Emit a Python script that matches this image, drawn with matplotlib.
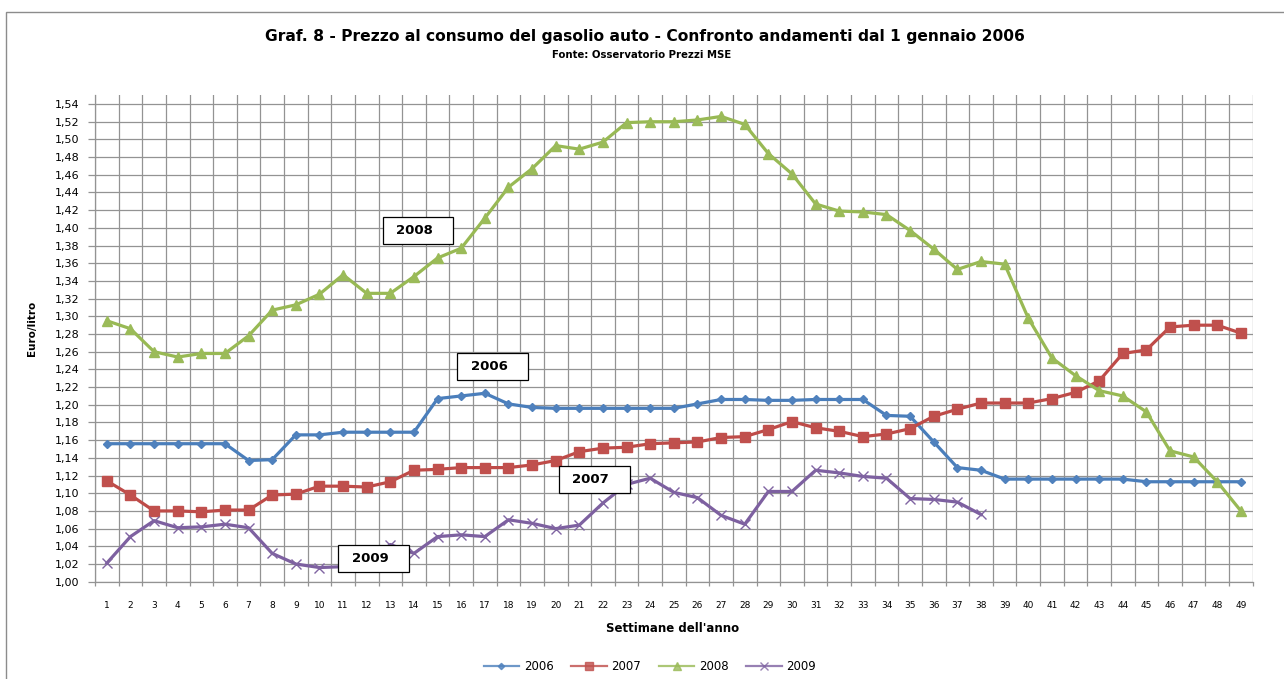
import matplotlib
matplotlib.use("Agg")
import matplotlib.pyplot as plt
from matplotlib.patches import Rectangle
from matplotlib.ticker import FuncFormatter
import numpy as np

weeks = list(range(1, 50))

s2006 = [1.156, 1.156, 1.156, 1.156, 1.156, 1.156, 1.137, 1.138, 1.166, 1.166,
         1.169, 1.169, 1.169, 1.169, 1.207, 1.210, 1.213, 1.201, 1.197, 1.196,
         1.196, 1.196, 1.196, 1.196, 1.196, 1.201, 1.206, 1.206, 1.205, 1.205,
         1.206, 1.206, 1.206, 1.188, 1.187, 1.158, 1.129, 1.126, 1.116, 1.116,
         1.116, 1.116, 1.116, 1.116, 1.113, 1.113, 1.113, 1.113, 1.113]

s2007 = [1.114, 1.098, 1.080, 1.080, 1.079, 1.081, 1.081, 1.098, 1.099, 1.108,
         1.108, 1.107, 1.113, 1.126, 1.127, 1.129, 1.129, 1.129, 1.132, 1.137,
         1.147, 1.151, 1.152, 1.156, 1.157, 1.158, 1.163, 1.164, 1.172, 1.181,
         1.174, 1.170, 1.164, 1.167, 1.173, 1.187, 1.195, 1.202, 1.202, 1.202,
         1.207, 1.214, 1.227, 1.258, 1.262, 1.288, 1.290, 1.290, 1.281]

s2008 = [1.295, 1.286, 1.260, 1.254, 1.258, 1.258, 1.278, 1.307, 1.313, 1.325,
         1.347, 1.326, 1.326, 1.345, 1.366, 1.377, 1.411, 1.446, 1.467, 1.493,
         1.489, 1.497, 1.519, 1.520, 1.520, 1.522, 1.526, 1.517, 1.484, 1.461,
         1.427, 1.419, 1.418, 1.415, 1.397, 1.376, 1.353, 1.362, 1.359, 1.298,
         1.253, 1.233, 1.216, 1.210, 1.192, 1.148, 1.141, 1.113, 1.080]

s2009 = [1.021, 1.051, 1.069, 1.061, 1.062, 1.065, 1.061, 1.032, 1.020, 1.016,
         1.017, 1.020, 1.042, 1.032, 1.051, 1.053, 1.051, 1.070, 1.066, 1.060,
         1.064, 1.089, 1.110, 1.117, 1.101, 1.095, 1.075, 1.065, 1.102, 1.102,
         1.126, 1.123, 1.119, 1.117, 1.094, 1.093, 1.090, 1.076]

series_names = ["2006", "2007", "2008", "2009"]
series_data = [s2006, s2007, s2008, s2009]
line_colors = ["#4A7EBB", "#BE4B48", "#98B954", "#7D60A0"]
marker_colors = ["#4F81BD", "#C0504D", "#9BBB59", "#8064A2"]
markers = ["D", "s", "^", "x"]
marker_sizes = [4.0, 6.5, 6.5, 7]

# callout boxes: (label, x centre, y centre) in data units
callouts = [("2008", 14.18, 1.397), ("2006", 17.33, 1.243),
            ("2007", 21.63, 1.116), ("2009", 12.29, 1.026)]

title = "Graf. 8 - Prezzo al consumo del gasolio auto - Confronto andamenti dal 1 gennaio 2006"
subtitle = "Fonte: Osservatorio Prezzi MSE"

W, H = 1284, 679
fig = plt.figure(figsize=(W / 100, H / 100), dpi=100)
plt.rcParams['font.family'] = ['DejaVu Sans']

grid_c = "#939393"

# outer frame
fig.patches.append(Rectangle((6 / W, -0.2), 1.2, (H - 12) / H + 0.2,
                             transform=fig.transFigure, fill=False,
                             edgecolor="#8c8c8c", lw=1.0))

ax = fig.add_axes([95 / W, (H - 581.7) / H, (1252.7 - 95) / W, (581.7 - 95.2) / H])

for name, data, lc, mc, mk, ms in zip(series_names, series_data, line_colors,
                                      marker_colors, markers, marker_sizes):
    kw = dict(color=lc, lw=2.3, marker=mk, markersize=ms, label=name,
              markerfacecolor=mc, markeredgecolor=mc, zorder=3)
    if mk == "x":
        kw["markeredgewidth"] = 1.0
    ax.plot(weeks[:len(data)], data, **kw)

ax.set_xlim(0.5, 49.5)
ax.set_ylim(1.00, 1.55)
ax.set_xticks(weeks)
ax.set_xticklabels([str(w) for w in weeks], fontsize=6.5)
ax.set_xticks(np.arange(0.5, 50, 1.0), minor=True)
ax.tick_params(axis="x", which="major", length=0, pad=14)
ax.tick_params(axis="x", which="minor", length=3, width=0.9, color=grid_c, direction="out")
ax.set_yticks(np.arange(1.00, 1.5401, 0.02))
ax.yaxis.set_major_formatter(FuncFormatter(lambda v, p: f"{v:.2f}".replace(".", ",")))
ax.tick_params(axis="y", which="major", length=5, width=0.9, color=grid_c,
               labelsize=8, pad=6, direction="out")
ax.grid(True, axis="x", which="minor", color=grid_c, lw=0.9, zorder=1)
ax.grid(True, axis="y", which="major", color=grid_c, lw=0.9, zorder=1)
ax.set_axisbelow(True)
for sp in ["top", "right"]:
    ax.spines[sp].set_visible(False)
for sp in ["left", "bottom"]:
    ax.spines[sp].set_color(grid_c)
    ax.spines[sp].set_linewidth(0.9)

bw, bh = 2.986, 0.0305
for lab, cx, cy in callouts:
    ax.add_patch(Rectangle((cx - bw / 2, cy - bh / 2), bw, bh, facecolor="white",
                           edgecolor="black", lw=0.9, zorder=5))
    ax.text(cx - 0.15, cy, lab, ha="center", va="center", fontsize=9.5,
            fontweight="bold", zorder=6)

fig.text(645 / W, 1 - 36 / H, title, ha="center", va="center", fontsize=11.2, fontweight="bold")
fig.text(642 / W, 1 - 55 / H, subtitle, ha="center", va="center", fontsize=7.3, fontweight="bold")
fig.text(673 / W, 1 - 628 / H, "Settimane dell'anno", ha="center", va="center",
         fontsize=8.5, fontweight="bold")
fig.text(32 / W, 1 - 328 / H, "Euro/litro", ha="center", va="center", rotation=90,
         fontsize=7.5, fontweight="bold")

handles, labels = ax.get_legend_handles_labels()
leg = fig.legend(handles, labels, loc="center", bbox_to_anchor=(650 / W, 1 - 667 / H),
                 ncol=4, frameon=False, fontsize=8.5, handlelength=3.0,
                 handletextpad=0.4, columnspacing=1.5, markerscale=0.8)
for h in leg.legend_handles:
    h.set_linewidth(1.6)
    h.set_alpha(0.8)

fig.savefig("out.png", dpi=100)
